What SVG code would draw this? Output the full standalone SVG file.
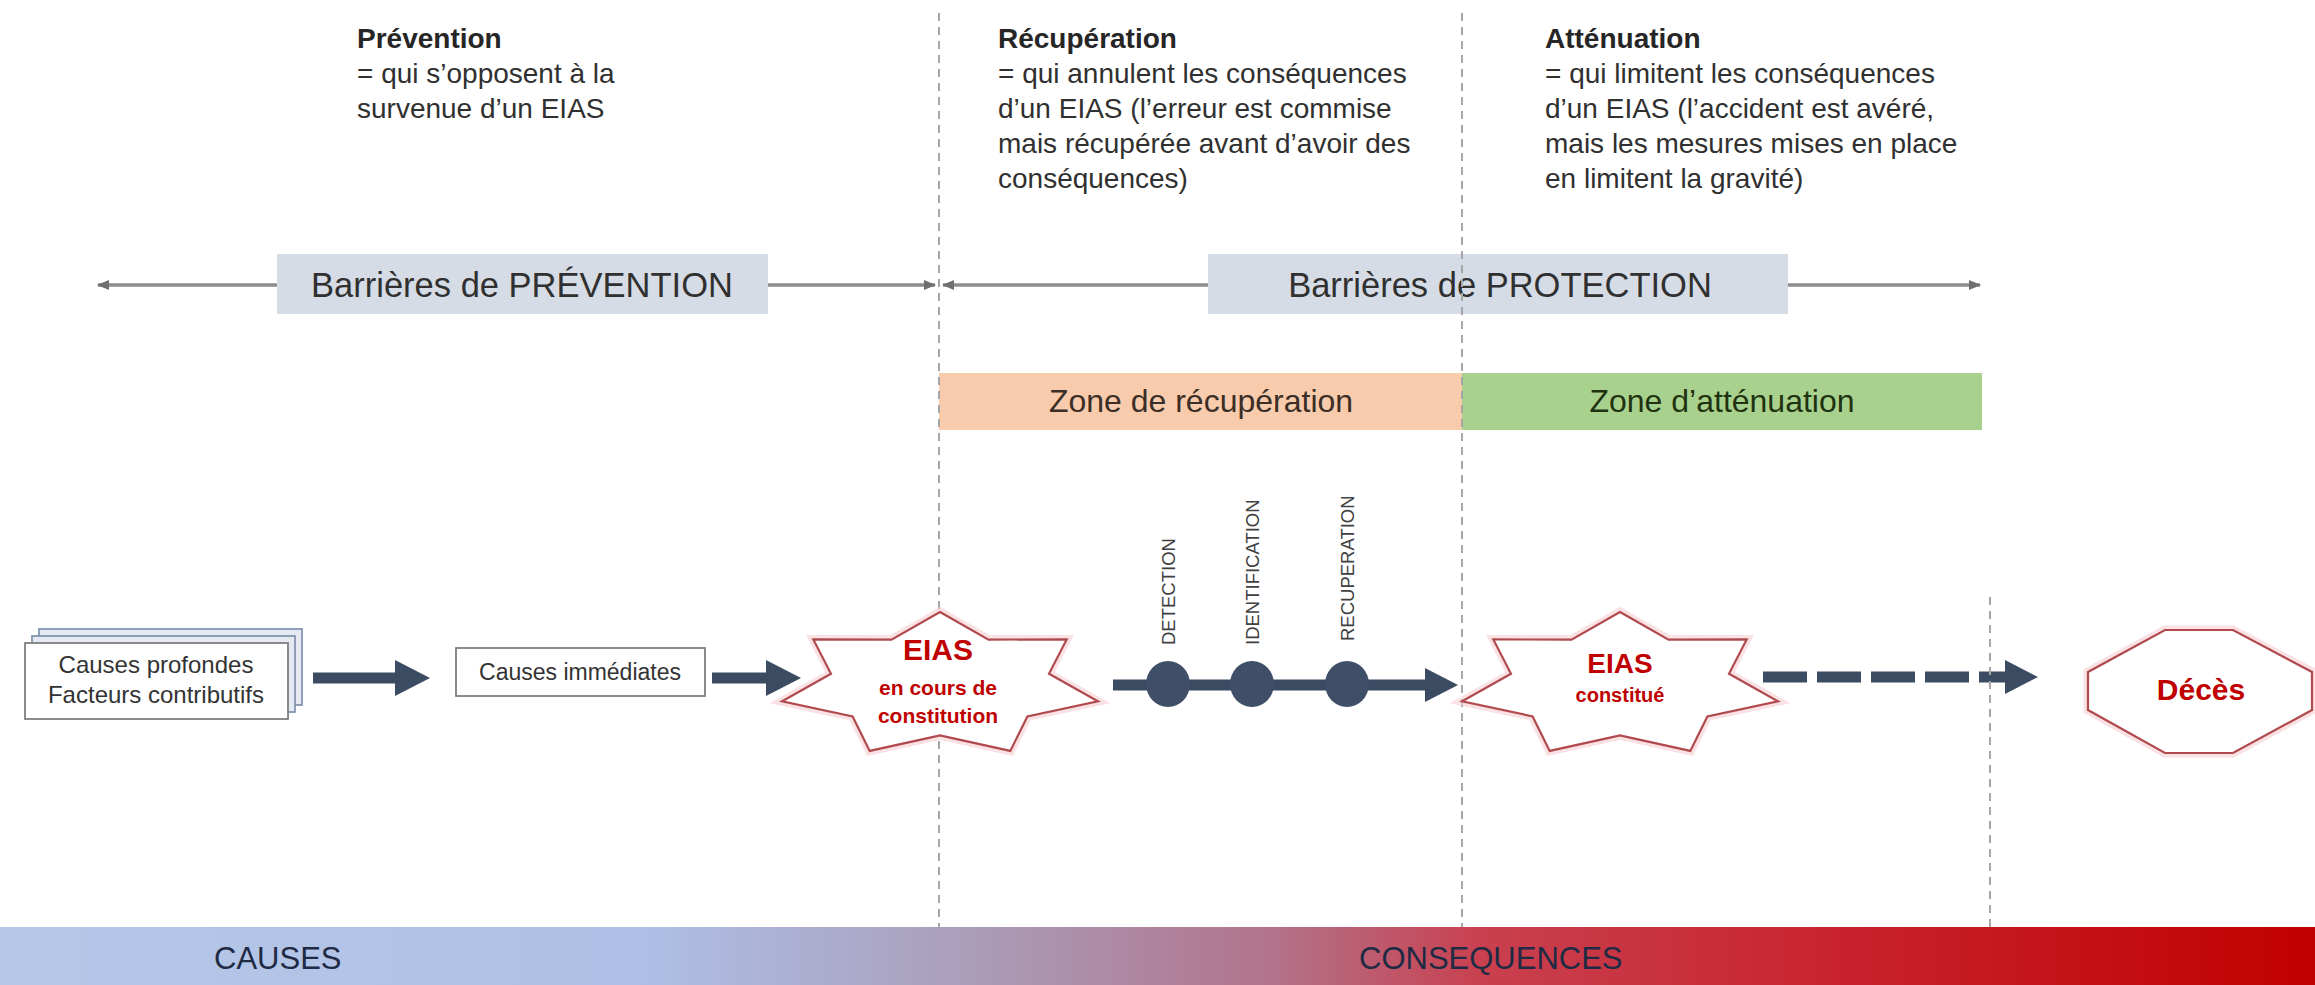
<svg xmlns="http://www.w3.org/2000/svg" xmlns:xlink="http://www.w3.org/1999/xlink" width="2315" height="985" viewBox="0 0 2315 985">
<style>
  text { font-family: "Liberation Sans", Arial, sans-serif; }
  .body { font-size: 28px; fill: #303030; }
  .title { font-size: 28px; font-weight: bold; fill: #262626; }
  .barrier { fill: #D6DCE5; }
  .barrierText { font-size: 34.5px; fill: #303030; text-anchor: middle; }
  .zoneText { font-size: 32px; text-anchor: middle; }
  .guide { stroke: #A6A6A6; stroke-width: 2; stroke-dasharray: 8 6; fill: none; }
  .thin { stroke: #8C8C8C; stroke-width: 3.5; fill: none; }
  .thick { stroke: #3B4B61; stroke-width: 11; fill: none; }
  .box { fill: #FFFFFF; stroke: #7F7F7F; stroke-width: 1.8; }
  .stackBack { fill: #E4E9F2; stroke: #8497B0; stroke-width: 1.8; }
  .boxText { font-size: 24px; fill: #333333; text-anchor: middle; }
  .redShape { fill: #FFFFFF; stroke: #B04A4E; stroke-width: 2.2; }
  .halo { fill: none; stroke: #F7CDD0; stroke-width: 9; opacity: 0.6; }
  .red { fill: #C00000; font-weight: bold; text-anchor: middle; }
  .vlab { font-size: 18.5px; fill: #404040; }
  .dot { fill: #3F4F68; }
  .barText { font-size: 31px; fill: #1F2A44; }
</style>
<defs>
  <linearGradient id="barGrad" x1="0" y1="0" x2="1" y2="0">
    <stop offset="0" stop-color="#B6C8E8"/>
    <stop offset="0.28" stop-color="#AEBFE5"/>
    <stop offset="0.42" stop-color="#AA9DBA"/>
    <stop offset="0.55" stop-color="#B2738A"/>
    <stop offset="0.64" stop-color="#C9404F"/>
    <stop offset="0.8" stop-color="#C8222C"/>
    <stop offset="1" stop-color="#C00000"/>
  </linearGradient>
  <path id="star7" d="M0,-73 L48.5,-45.4 L126.7,-45.6 L109,-11.2 L157.9,16.3 L87.4,31.4 L70.3,65.9 L0,50.4 L-70.3,65.9 L-87.4,31.4 L-157.9,16.3 L-109,-11.2 L-126.7,-45.6 L-48.5,-45.4 Z"/>
  <marker id="thinHead" markerUnits="userSpaceOnUse" markerWidth="12" markerHeight="10" refX="11" refY="5" orient="auto-start-reverse">
    <path d="M0,0 L12,5 L0,10 Z" fill="#6F6F6F"/>
  </marker>
  <marker id="darkHead" markerUnits="userSpaceOnUse" markerWidth="36" markerHeight="36" refX="1" refY="18" orient="auto">
    <path d="M0,0 L35,18 L0,36 Z" fill="#3B4B61"/>
  </marker>
  <marker id="darkHead2" markerUnits="userSpaceOnUse" markerWidth="34" markerHeight="34" refX="1" refY="17" orient="auto">
    <path d="M0,0 L33,17 L0,34 Z" fill="#3B4B61"/>
  </marker>
</defs>

<rect x="0" y="0" width="2315" height="985" fill="#FFFFFF"/>

<!-- bottom gradient bar -->
<g id="bar">
  <rect x="0" y="927" width="2315" height="58" fill="url(#barGrad)"/>
  <text class="barText" x="214" y="969">CAUSES</text>
  <text class="barText" x="1359" y="969">CONSEQUENCES</text>
</g>

<!-- description texts -->
<g id="txt-prevention">
  <text class="title" x="357" y="48">Prévention</text>
  <text class="body" x="357" y="83">= qui s’opposent à la</text>
  <text class="body" x="357" y="118">survenue d’un EIAS</text>
</g>
<g id="txt-recuperation">
  <text class="title" x="998" y="48">Récupération</text>
  <text class="body" x="998" y="83">= qui annulent les conséquences</text>
  <text class="body" x="998" y="118">d’un EIAS (l’erreur est commise</text>
  <text class="body" x="998" y="153">mais récupérée avant d’avoir des</text>
  <text class="body" x="998" y="188">conséquences)</text>
</g>
<g id="txt-attenuation">
  <text class="title" x="1545" y="48">Atténuation</text>
  <text class="body" x="1545" y="83">= qui limitent les conséquences</text>
  <text class="body" x="1545" y="118">d’un EIAS (l’accident est avéré,</text>
  <text class="body" x="1545" y="153">mais les mesures mises en place</text>
  <text class="body" x="1545" y="188">en limitent la gravité)</text>
</g>

<!-- connectors -->
<g id="connectors">
  <line class="thin" x1="98" y1="285" x2="935" y2="285" marker-start="url(#thinHead)" marker-end="url(#thinHead)"/>
  <line class="thin" x1="943" y1="285" x2="1980" y2="285" marker-start="url(#thinHead)" marker-end="url(#thinHead)"/>
  <line class="thick" x1="313" y1="678" x2="396" y2="678" marker-end="url(#darkHead)"/>
  <line class="thick" x1="712" y1="678" x2="767" y2="678" marker-end="url(#darkHead)"/>
  <line class="thick" x1="1113" y1="685" x2="1426" y2="685" marker-end="url(#darkHead2)"/>
  <line class="thick" x1="1763" y1="677" x2="2006" y2="677" stroke-dasharray="44 10" marker-end="url(#darkHead2)"/>
</g>

<!-- barrier and zone bands -->
<g id="barriere-prevention">
  <rect class="barrier" x="277" y="254" width="491" height="60"/>
  <text class="barrierText" x="522" y="297">Barrières de PRÉVENTION</text>
</g>
<g id="barriere-protection">
  <rect class="barrier" x="1208" y="254" width="580" height="60"/>
  <text class="barrierText" x="1500" y="297">Barrières de PROTECTION</text>
</g>
<g id="zone-recuperation">
  <rect x="939" y="373" width="523" height="57" fill="#F8CBAD"/>
  <text class="zoneText" x="1201" y="412" fill="#3A2E26">Zone de récupération</text>
</g>
<g id="zone-attenuation">
  <rect x="1462" y="373" width="520" height="57" fill="#A9D18E"/>
  <text class="zoneText" x="1722" y="412" fill="#1F3310">Zone d’atténuation</text>
</g>

<!-- dashed guide lines -->
<g id="guides">
  <line class="guide" x1="939" y1="13" x2="939" y2="927"/>
  <line class="guide" x1="1462" y1="13" x2="1462" y2="927"/>
  <line class="guide" x1="1990" y1="597" x2="1990" y2="927"/>
</g>

<!-- nodes -->
<g id="causes-profondes">
  <rect class="stackBack" x="39" y="629" width="263" height="76"/>
  <rect class="stackBack" x="32" y="636" width="263" height="76"/>
  <rect class="box" x="25" y="643" width="263" height="76"/>
  <text class="boxText" x="156" y="673">Causes profondes</text>
  <text class="boxText" x="156" y="703">Facteurs contributifs</text>
</g>
<g id="causes-immediates">
  <rect class="box" x="456" y="648" width="249" height="48"/>
  <text class="boxText" x="580" y="680" style="font-size:23px">Causes immédiates</text>
</g>
<g id="eias-en-cours">
  <use xlink:href="#star7" href="#star7" x="940" y="685" class="halo"/>
  <use xlink:href="#star7" href="#star7" x="940" y="685" class="redShape"/>
  <text class="red" x="938" y="660" style="font-size:30px">EIAS</text>
  <text class="red" x="938" y="695" style="font-size:21px">en cours de</text>
  <text class="red" x="938" y="723" style="font-size:21px">constitution</text>
</g>
<g id="etapes">
  <ellipse class="dot" cx="1168" cy="684" rx="22" ry="23"/>
  <ellipse class="dot" cx="1252" cy="684" rx="22" ry="23"/>
  <ellipse class="dot" cx="1347" cy="684" rx="22" ry="23"/>
  <text class="vlab" transform="translate(1175,645) rotate(-90)">DETECTION</text>
  <text class="vlab" transform="translate(1259,645) rotate(-90)">IDENTIFICATION</text>
  <text class="vlab" transform="translate(1354,641) rotate(-90)">RECUPERATION</text>
</g>
<g id="eias-constitue">
  <use xlink:href="#star7" href="#star7" x="1620" y="685" class="halo"/>
  <use xlink:href="#star7" href="#star7" x="1620" y="685" class="redShape"/>
  <text class="red" x="1620" y="673" style="font-size:28px">EIAS</text>
  <text class="red" x="1620" y="702" style="font-size:20px">constitué</text>
</g>
<g id="deces">
  <polygon class="halo" points="2165,630 2233,630 2312,672 2312,710 2233,753 2165,753 2088,710 2088,672"/>
  <polygon class="redShape" points="2165,630 2233,630 2312,672 2312,710 2233,753 2165,753 2088,710 2088,672"/>
  <text class="red" x="2201" y="700" style="font-size:30px">Décès</text>
</g>
</svg>
